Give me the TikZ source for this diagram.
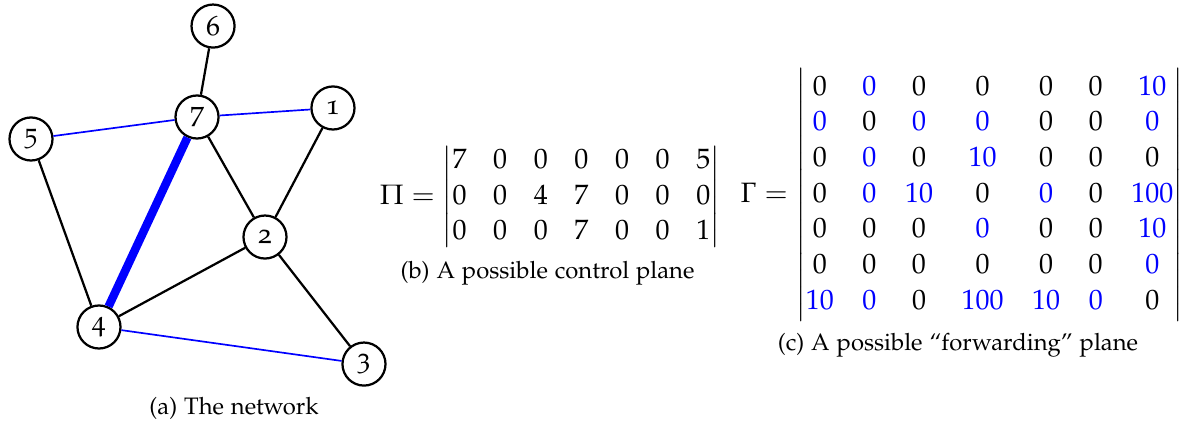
\documentclass[tikz,border=0pt]{standalone}
\usepackage[T1]{fontenc}
\usepackage[osf]{mathpazo}
\usepackage{amsmath}
\usepackage{xcolor}
\newcommand{\bz}[1]{\textcolor{blue}{#1}}
\begin{document}
\begin{tikzpicture}
  \tikzstyle{vert} = [draw, circle, thick, minimum size=0.54cm, inner sep=0pt]
  \tikzstyle{link} = [thick]
  \tikzstyle{blink} = [blue, semithick]
  \tikzstyle{capt} = [font=\fontsize{8.5pt}{10pt}\selectfont]
  \useasboundingbox (0,0) rectangle (14.856,5.358);
  % the network
  \node[vert] (n6) at (2.673, 5.031) {6};
  \node[vert] (n7) at (2.472, 3.890) {7};
  \node[vert] (n1) at (4.178, 4.003) {1};
  \node[vert] (n5) at (0.389, 3.614) {5};
  \node[vert] (n2) at (3.325, 2.384) {2};
  \node[vert] (n4) at (1.242, 1.255) {4};
  \node[vert] (n3) at (4.567, 0.790) {3};
  \draw[link] (n6) -- (n7);
  \draw[link] (n7) -- (n2);
  \draw[link] (n1) -- (n2);
  \draw[link] (n5) -- (n4);
  \draw[link] (n2) -- (n4);
  \draw[link] (n2) -- (n3);
  \draw[blink] (n7) -- (n1);
  \draw[blink] (n7) -- (n5);
  \draw[blink] (n4) -- (n3);
  \draw[blue, line width=3pt] (n7) -- (n4);
  \node[capt] (capa) at (2.936, 0.226) {(a) The network};
  % control plane
  \node (ctrl) at (6.901, 2.886) {\setlength{\arraycolsep}{4.75pt}%
    \renewcommand{\arraystretch}{1.06}$\Pi = \begin{vmatrix}
    7 & 0 & 0 & 0 & 0 & 0 & 5\\
    0 & 0 & 4 & 7 & 0 & 0 & 0\\
    0 & 0 & 0 & 7 & 0 & 0 & 1
  \end{vmatrix}$};
  \node[capt] (capb) at (6.870, 1.932) {(b) A possible control plane};
  % forwarding plane
  \node (fwd) at (12.07, 2.911) {\setlength{\arraycolsep}{5.1pt}%
    \renewcommand{\arraystretch}{1.06}$\Gamma = \begin{vmatrix}
    0 & \bz{0} & 0 & 0 & 0 & 0 & \bz{10}\\
    \bz{0} & 0 & \bz{0} & \bz{0} & 0 & 0 & \bz{0}\\
    0 & \bz{0} & 0 & \bz{10} & 0 & 0 & 0\\
    0 & \bz{0} & \bz{10} & 0 & \bz{0} & 0 & \bz{100}\\
    0 & 0 & 0 & \bz{0} & 0 & 0 & \bz{10}\\
    0 & 0 & 0 & 0 & 0 & 0 & \bz{0}\\
    \bz{10} & \bz{0} & 0 & \bz{100} & \bz{10} & \bz{0} & 0
  \end{vmatrix}$};
  \node[capt] (capc) at (12.020, 1.029) {(c) A possible ``forwarding'' plane};
\end{tikzpicture}
\end{document}
